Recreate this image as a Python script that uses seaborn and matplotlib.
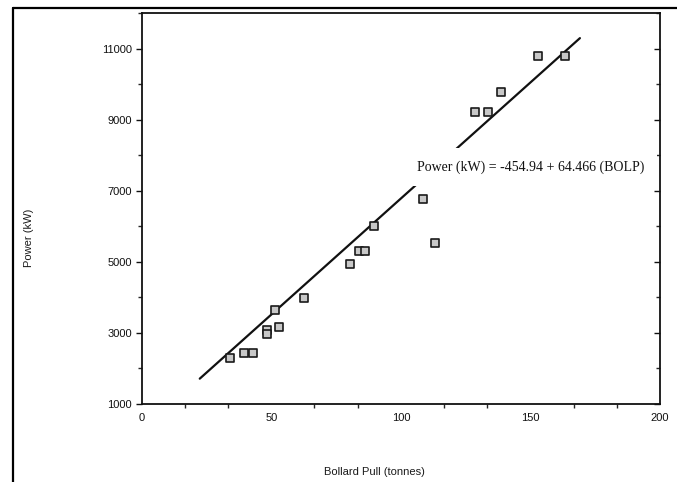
import numpy as np
import pandas as pd
import matplotlib
matplotlib.use("Agg")
import matplotlib.pyplot as plt
from matplotlib.lines import Line2D
from matplotlib.ticker import MultipleLocator
import seaborn as sns

# Bollard pull (tonnes) and installed power (kW) for each vessel
bollard_pull = [34, 39.5, 43, 48.5, 48.5, 51.5, 53, 62.5, 80.5, 84, 86, 89.5,
                108.5, 113, 128.5, 133.5, 138.5, 153, 163.5]
power_kw = [2270, 2420, 2420, 3060, 2970, 3630, 3160, 3980, 4920, 5300, 5300,
            6000, 6760, 5520, 9220, 9210, 9770, 10790, 10790]

# End points of the fitted regression line
fit_x = [22.4, 169.1]
fit_y = [1700, 11300]

equation_text = "Power (kW) = -454.94 + 64.466 (BOLP)"
x_ticks = [0, 50, 100, 150, 200]
y_ticks = [1000, 3000, 5000, 7000, 9000, 11000]

sns.set_theme(style="white")
plt.rcParams["font.family"] = ["Liberation Sans", "DejaVu Sans"]

fig = plt.figure(figsize=(6.77, 4.82), dpi=100)
ax = fig.add_axes([141.7 / 677, 1 - 403.5 / 482, (660 - 141.7) / 677, (403.5 - 13.3) / 482])

pts = pd.DataFrame({"pull": bollard_pull, "power": power_kw})
line = pd.DataFrame({"pull": fit_x, "power": fit_y})

sns.lineplot(data=line, x="pull", y="power", ax=ax, color="#111111", lw=1.6, zorder=2)
sns.scatterplot(data=pts, x="pull", y="power", ax=ax, marker="s", s=30,
                facecolor="#c8c8c8", edgecolor="#1a1a1a", linewidth=1.2, zorder=4)

ax.text(106.2, 7670, equation_text, family=["Liberation Serif", "DejaVu Serif"],
        fontsize=10, color="#111111", va="center", ha="left", zorder=3,
        bbox=dict(facecolor="white", edgecolor="none", pad=9))

ax.set_xlim(0, 200)
ax.set_ylim(1000, 12000)
ax.set_xticks(x_ticks)
ax.set_yticks(y_ticks)
ax.xaxis.set_minor_locator(MultipleLocator(50 / 3))
ax.yaxis.set_minor_locator(MultipleLocator(1000))

for side in ["left", "bottom", "right", "top"]:
    ax.spines[side].set_visible(True)
    ax.spines[side].set_color("#111111")
    ax.spines[side].set_linewidth(1.3)

ax.tick_params(axis="both", which="major", labelsize=8, colors="#111111",
               labelcolor="#111111", width=1.0)
ax.tick_params(axis="x", which="major", direction="out", length=4, pad=3)
ax.tick_params(axis="x", which="minor", direction="out", length=3, bottom=True, width=1.0)
ax.tick_params(axis="y", which="major", direction="out", length=4, pad=3,
               left=True, right=True)
ax.tick_params(axis="y", which="minor", direction="out", length=3, left=True,
               right=True, width=1.0)
ax.tick_params(axis="y", which="both", right=True, labelright=False)
# right-hand ticks point into the plot
for t in ax.yaxis.get_major_ticks() + ax.yaxis.get_minor_ticks():
    t.tick2line.set_marker(matplotlib.lines.TICKLEFT)

ax.set_xlabel("Bollard Pull (tonnes)", fontsize=8, color="#1a1a1a")
ax.set_ylabel("Power (kW)", fontsize=8, color="#1a1a1a")
ax.xaxis.set_label_coords((374 - 141.7) / 518.3, (403.5 - 467) / 390.2)
ax.yaxis.set_label_coords((34 - 141.7) / 518.3, (403.5 - 238) / 390.2)

# page frame along the top and left edges
fig.add_artist(Line2D([13 / 677, 1.0], [1 - 7.5 / 482, 1 - 7.5 / 482], color="black", lw=1.6))
fig.add_artist(Line2D([13 / 677, 13 / 677], [0, 1 - 7.5 / 482], color="black", lw=1.6))

fig.savefig("out.png", dpi=100, facecolor="white")
